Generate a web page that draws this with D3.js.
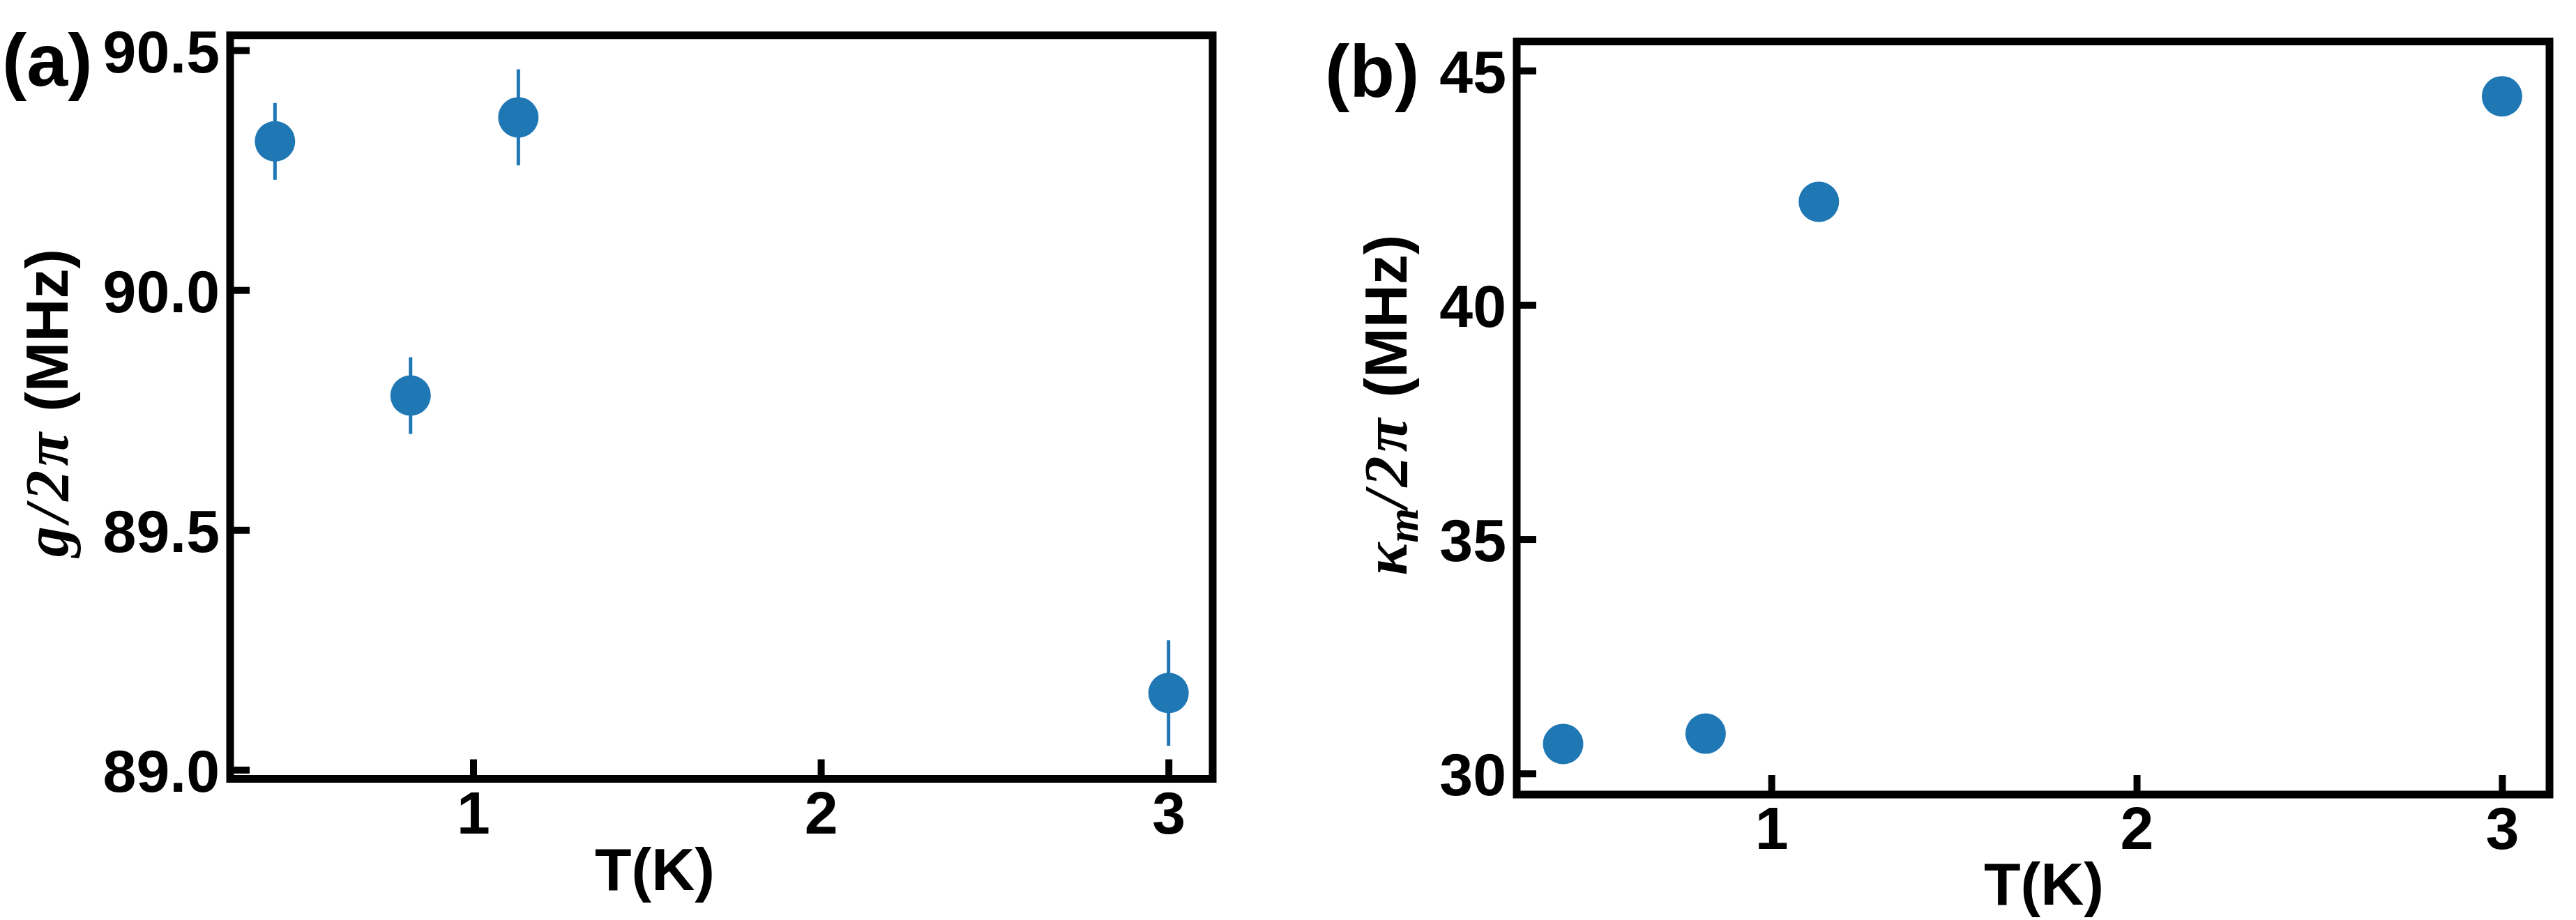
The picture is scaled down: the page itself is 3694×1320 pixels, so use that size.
<!DOCTYPE html>
<html><head><meta charset="utf-8">
<script src="https://cdn.jsdelivr.net/npm/d3@7"></script>
<style>body{margin:0;background:#fff} text{font-family:"Liberation Sans",Arial,sans-serif;font-weight:bold;fill:#000}</style>
</head><body>
<svg id="c" width="3694" height="1320"></svg>
<script>
// ---- data ----
const temps = [0.43, 0.82, 1.13, 3.0];
const couplingG = [90.31, 89.78, 90.36, 89.16];
const couplingErr = [0.08, 0.08, 0.10, 0.11];
const kappaM = [30.63, 30.85, 42.2, 44.45];
const xTicks = [1, 2, 3];
const yTicksA = [89.0, 89.5, 90.0, 90.5];
const yTicksB = [30, 35, 40, 45];

const svg = d3.select("#c");
svg.append("rect").attr("width",3694).attr("height",1320).attr("fill","#fff");
const blue = "#1f77b4";

function panel(cfg){
  const w = cfg.right - cfg.left, h = cfg.bottom - cfg.top;
  const g = svg.append("g").attr("transform",`translate(${cfg.left},${cfg.top})`);
  const x = d3.scaleLinear().domain(cfg.xDomain).range([0,w]);
  const y = d3.scaleLinear().domain(cfg.yDomain).range([h,0]);

  // error bars
  if (cfg.err){
    g.selectAll("line.err").data(temps).enter().append("line")
      .attr("x1",(d)=>x(d)).attr("x2",(d)=>x(d))
      .attr("y1",(d,i)=>y(cfg.vals[i]-cfg.err[i]))
      .attr("y2",(d,i)=>y(cfg.vals[i]+cfg.err[i]))
      .attr("stroke",blue).attr("stroke-width",5);
  }
  g.selectAll("circle").data(temps).enter().append("circle")
    .attr("cx",(d)=>x(d)).attr("cy",(d,i)=>y(cfg.vals[i]))
    .attr("r",29).attr("fill",blue);

  const xa = g.append("g").attr("transform",`translate(0,${h})`)
    .call(d3.axisBottom(x).tickValues(xTicks).tickFormat(d3.format("d")).tickSizeInner(-28).tickSizeOuter(0).tickPadding(0));
  const ya = g.append("g")
    .call(d3.axisLeft(y).tickValues(cfg.yTicks).tickFormat(d3.format(cfg.yFmt)).tickSizeInner(-28).tickSizeOuter(0).tickPadding(15));
  [xa,ya].forEach(a=>{
    a.select(".domain").remove();
    a.selectAll(".tick line").attr("stroke","#000").attr("stroke-width",10);
    a.selectAll(".tick text").attr("fill","#000").style("font-size","86px")
      .style("font-family",'"Liberation Sans",Arial,sans-serif').style("font-weight","bold");
  });
  xa.selectAll(".tick text").attr("y",78).attr("dy",null);
  ya.selectAll(".tick text").attr("dy","0.36em");

  g.append("rect").attr("width",w).attr("height",h).attr("fill","none")
    .attr("stroke","#000").attr("stroke-width",11);

  svg.append("text").attr("x",cfg.lab[0]).attr("y",cfg.lab[1]).style("font-size","106px").text(cfg.label);
  svg.append("text").attr("x",cfg.xl[0]).attr("y",cfg.xl[1]).attr("text-anchor","middle")
    .style("font-size","86px").text("T(K)");
  const yl = svg.append("text").attr("text-anchor","middle")
    .attr("transform",`translate(${cfg.yl[0]},${cfg.yl[1]}) rotate(-90)`).style("font-size","86px");
  cfg.ylab(yl);
}

const serif = '"Liberation Serif","Times New Roman",serif';

panel({left:330, top:50.7, right:1739, bottom:1117.5,
  xDomain:[0.301,3.127], yDomain:[88.981,90.531],
  vals:couplingG, err:couplingErr, yTicks:yTicksA, yFmt:".1f",
  label:"(a)", lab:[3,123], xl:[939,1277], yl:[97,578],
  ylab:(t)=>{
    t.append("tspan").style("font-family",serif).style("font-style","italic").style("font-size","88px")
      .attr("letter-spacing",6).text("g/2π");
    t.append("tspan").text(" (MHz)");
  }});

panel({left:2175, top:59.5, right:3656, bottom:1140,
  xDomain:[0.303,3.13], yDomain:[29.55,45.62],
  vals:kappaM, err:null, yTicks:yTicksB, yFmt:"d",
  label:"(b)", lab:[1900,139], xl:[2931,1298], yl:[2017,581],
  ylab:(t)=>{
    t.append("tspan").style("font-family",serif).style("font-style","italic").style("font-size","88px").text("κ");
    t.append("tspan").style("font-family",serif).style("font-style","italic").style("font-size","64px")
      .attr("dy",16).text("m");
    t.append("tspan").style("font-family",serif).style("font-style","italic").style("font-size","88px")
      .attr("dy",-16).attr("letter-spacing",6).text("/2π");
    t.append("tspan").text(" (MHz)");
  }});
</script>
</body></html>
